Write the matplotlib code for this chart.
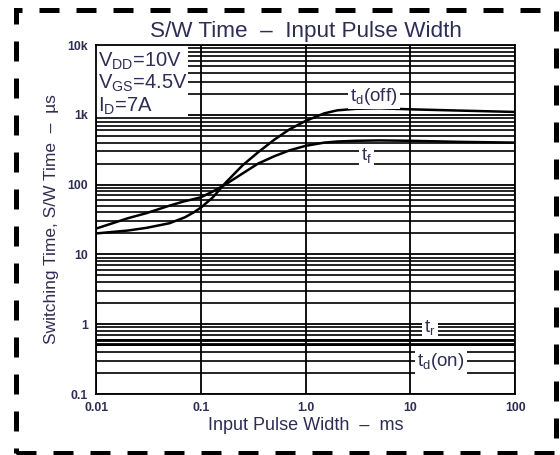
import numpy as np
import matplotlib
matplotlib.use('Agg')
from matplotlib import pyplot as plt
from matplotlib.patches import Rectangle
from matplotlib.ticker import LogLocator, FixedLocator, NullFormatter

plt.rcParams['font.family'] = ['Liberation Sans', 'DejaVu Sans']
plt.rcParams['mathtext.fontset'] = 'custom'
plt.rcParams['mathtext.rm'] = 'Liberation Sans'
plt.rcParams['mathtext.it'] = 'Liberation Sans:italic'

# values (pulse width in ms, times in us)
pulse_ms = [0.01, 0.02, 0.03, 0.05, 0.07, 0.085, 0.1, 0.13, 0.17, 0.25, 0.35, 0.5, 0.7,
            1.0, 1.5, 2.0, 3.0, 5.0, 10, 30, 100]
td_off = [20, 22, 24, 28, 34, 40, 47, 66, 105, 190, 290, 440, 620,
          820, 1050, 1160, 1220, 1240, 1200, 1150, 1100]
t_f = [23.5, 33, 39, 50, 58, 62, 66, 80, 100, 145, 200, 255, 310,
       360, 400, 415, 425, 430, 425, 410, 400]
tr_pulse = [0.01, 100]
t_r = [0.6, 0.6]
td_on = [0.52, 0.52]

x_ticks = [0.01, 0.1, 1.0, 10, 100]
x_labels = ['0.01', '0.1', '1.0', '10', '100']
y_ticks = [0.1, 1, 10, 100, 1000, 10000]
y_labels = ['0.1', '1', '10', '100', '1k', '10k']

text_col = '#2e2e55'

fig = plt.figure(figsize=(5.6, 4.55), dpi=100)
ax = fig.add_axes([0.172, 0.134, 0.748, 0.767])
ax.set_xscale('log')
ax.set_yscale('log')
ax.set_xlim(0.01, 100)
ax.set_ylim(0.1, 10000)

# grid: decades on x, every minor step on y
ax.set_axisbelow(True)
ax.xaxis.set_major_locator(FixedLocator(x_ticks))
ax.xaxis.set_minor_locator(FixedLocator([]))
ax.yaxis.set_major_locator(FixedLocator(y_ticks))
ax.yaxis.set_minor_locator(LogLocator(base=10, subs=range(2, 10)))
ax.yaxis.set_minor_formatter(NullFormatter())
ax.grid(True, which='major', axis='both', color='black', lw=1.3)
ax.grid(True, which='minor', axis='y', color='black', lw=1.2)
ax.set_xticklabels(x_labels)
ax.set_yticklabels(y_labels)
ax.tick_params(which='both', length=0, labelsize=8.8, labelcolor=text_col, pad=6)
for lbl in ax.get_xticklabels() + ax.get_yticklabels():
    lbl.set_fontweight('bold')
for s in ax.spines.values():
    s.set_linewidth(1.3)

# curves
ax.plot(pulse_ms, td_off, color='black', lw=1.8, zorder=2)
ax.plot(pulse_ms, t_f, color='black', lw=1.8, zorder=2)
ax.plot(tr_pulse, t_r, color='black', lw=2.0, zorder=2)
ax.plot(tr_pulse, td_on, color='black', lw=2.0, zorder=2)

# blank corner for the conditions text
ax.add_patch(Rectangle((0, 0.797), 0.218, 0.203, transform=ax.transAxes,
                       facecolor='white', edgecolor='none', zorder=1.5))
ax.text(0.004, 0.985, r'V$_{\rm DD}$=10V', transform=ax.transAxes, fontsize=14.5,
        color=text_col, va='top', ha='left', zorder=3)
ax.text(0.004, 0.92, r'V$_{\rm GS}$=4.5V', transform=ax.transAxes, fontsize=14.5,
        color=text_col, va='top', ha='left', zorder=3)
ax.text(0.004, 0.855, r'I$_{\rm D}$=7A', transform=ax.transAxes, fontsize=14.5,
        color=text_col, va='top', ha='left', zorder=3)

box = dict(facecolor='white', edgecolor='none', pad=1.5)
ax.text(4.5, 1860, r't$_{\rm d}$(off)', fontsize=13.5, color=text_col,
        ha='center', va='center', bbox=box, zorder=3)
ax.text(3.8, 260, r't$_{\rm f}$', fontsize=13.5, color=text_col,
        ha='center', va='center', bbox=box, zorder=3)
ax.text(15.3, 0.9, r't$_{\rm r}$', fontsize=13.5, color=text_col,
        ha='center', va='center', bbox=box, zorder=3)
ax.text(19.5, 0.29, r't$_{\rm d}$(on)', fontsize=13.5, color=text_col,
        ha='center', va='center', bbox=box, zorder=3)

ax.set_title('S/W Time  \u2013  Input Pulse Width', fontsize=16.2, color=text_col, pad=6)
ax.set_xlabel('Input Pulse Width  \u2013  ms', fontsize=13, color=text_col, labelpad=2)
ax.set_ylabel('Switching Time, S/W Time  \u2013  \u00b5s', fontsize=12.5, color=text_col, labelpad=6)

# dashed frame around the whole figure
fig.add_artist(Rectangle((15.5 / 560, 1 - 453 / 455), 540 / 560, 443 / 455,
                         transform=fig.transFigure, fill=False, ec='black',
                         lw=3.6, ls=(0, (4, 3.4))))

plt.savefig('out.png', dpi=100)
